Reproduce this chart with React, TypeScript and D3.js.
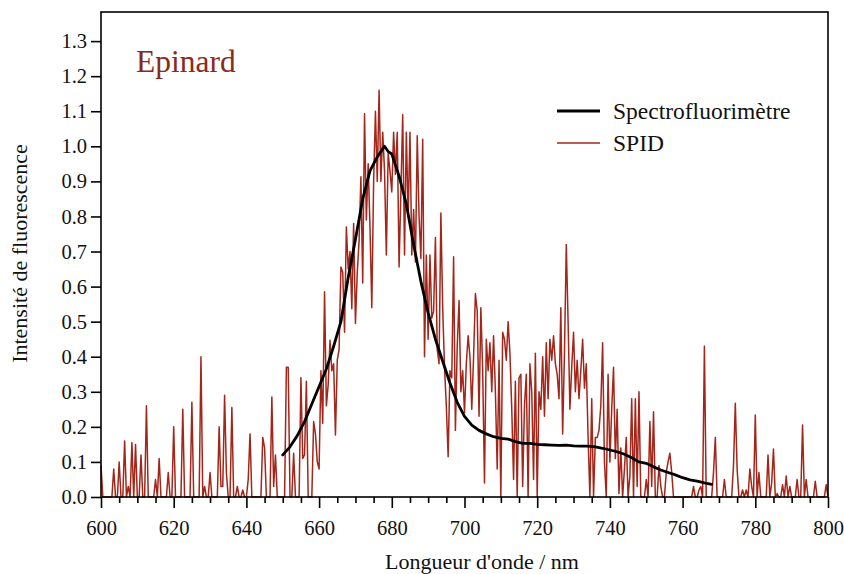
import React, { useEffect, useRef } from 'react';
import * as d3 from 'd3';

// SPID spectrum, sampled every 0.5 nm from 600 nm to 800 nm
const spidStart = 600;
const spidStep = 0.5;
const spidValues: number[] = [
  0.09, 0, 0, 0, 0, 0, 0, 0.08, 0, 0, // 600
  0.10, 0, 0, 0.16, 0, 0.03, 0, 0.155, 0, 0.15, // 605
  0, 0, 0.12, 0, 0, 0.26, 0, 0, 0, 0, // 610
  0.05, 0, 0.11, 0, 0, 0, 0, 0.07, 0, 0, // 615
  0.20, 0, 0, 0, 0, 0.25, 0, 0, 0, 0, // 620
  0.27, 0, 0, 0, 0, 0.40, 0, 0.03, 0, 0, // 625
  0.07, 0, 0, 0, 0, 0.20, 0.03, 0.03, 0.29, 0.07, // 630
  0, 0, 0.255, 0, 0, 0.03, 0, 0, 0.02, 0, // 635
  0, 0.05, 0.18, 0, 0, 0, 0, 0, 0, 0.17, // 640
  0.14, 0, 0, 0, 0.285, 0.03, 0.12, 0, 0, 0, // 645
  0, 0, 0.37, 0.37, 0, 0, 0.125, 0, 0, 0, // 650
  0.34, 0.11, 0.12, 0.33, 0, 0, 0, 0.215, 0.18, 0.10, // 655
  0.08, 0.36, 0.21, 0.585, 0.26, 0.32, 0.447, 0.36, 0.38, 0.177, // 660
  0.39, 0.42, 0.656, 0.64, 0.47, 0.77, 0.65, 0.70, 0.537, 0.78, // 665
  0.495, 0.64, 0.73, 0.913, 0.61, 1.093, 0.79, 0.95, 0.77, 0.54, // 670
  0.90, 1.10, 0.90, 1.16, 0.90, 1.04, 0.93, 0.69, 0.98, 0.93, // 675
  0.87, 1.04, 0.92, 1.04, 0.656, 0.87, 1.09, 0.69, 1.04, 0.80, // 680
  1.04, 0.69, 0.82, 0.67, 1.03, 0.80, 0.68, 1.02, 0.40, 0.69, // 685
  0.45, 0.69, 0.51, 0.53, 0.74, 0.42, 0.38, 0.81, 0.54, 0.37, // 690
  0.26, 0.115, 0.36, 0.34, 0.685, 0.19, 0.43, 0.56, 0.30, 0.36, // 695
  0.24, 0.38, 0.46, 0.40, 0.25, 0.40, 0.58, 0.53, 0.23, 0.54, // 700
  0.36, 0.04, 0.45, 0.36, 0.44, 0.30, 0.46, 0.30, 0.08, 0.39, // 705
  0, 0.47, 0.45, 0.39, 0.50, 0.41, 0.25, 0.05, 0.33, 0, // 710
  0.34, 0.35, 0.03, 0.26, 0.35, 0, 0.38, 0.30, 0.05, 0.41, // 715
  0, 0.30, 0.25, 0.40, 0.23, 0.44, 0.28, 0.45, 0.39, 0.46, // 720
  0.38, 0.35, 0.28, 0.54, 0.18, 0.41, 0.72, 0.50, 0.25, 0.37, // 725
  0.47, 0.30, 0.39, 0.28, 0.36, 0.45, 0.31, 0.38, 0.17, 0, // 730
  0.28, 0, 0.17, 0.17, 0.19, 0.26, 0.44, 0.10, 0, 0.35, // 735
  0.10, 0.25, 0.37, 0.11, 0.25, 0.01, 0.14, 0, 0.08, 0.17, // 740
  0, 0.06, 0.28, 0, 0.28, 0.03, 0.30, 0, 0, 0, // 745
  0.05, 0, 0.215, 0.03, 0.243, 0, 0, 0.09, 0.03, 0, // 750
  0, 0.07, 0.10, 0.125, 0.07, 0, 0, 0, 0, 0, // 755
  0, 0, 0, 0, 0, 0, 0.03, 0, 0, 0.02, // 760
  0.03, 0, 0.43, 0, 0, 0, 0, 0.07, 0.17, 0, // 765
  0, 0, 0, 0.05, 0, 0, 0, 0, 0.09, 0.267, // 770
  0.08, 0, 0, 0.02, 0, 0.02, 0, 0.08, 0.03, 0, // 775
  0.234, 0, 0.07, 0, 0, 0, 0, 0.12, 0, 0.04, // 780
  0.137, 0, 0.01, 0, 0, 0.035, 0, 0.06, 0, 0.03, // 785
  0, 0, 0, 0.05, 0, 0, 0.205, 0, 0.05, 0, // 790
  0, 0, 0, 0.045, 0, 0, 0, 0, 0, 0.035, // 795
  0, // 800
];

// Spectrofluorimeter reference spectrum
const spectroNm: number[] = [
  650, 652, 654, 656, 658, 660, 662, 664, 666, 668, 670, 672, 674, 676, 678, 679, 680,
  682, 684, 686, 688, 690, 692, 694, 696, 698, 700, 702, 704, 706, 708, 710, 712, 714,
  716, 718, 720, 722, 724, 726, 728, 730, 732, 734, 736, 738, 740, 742, 744, 746, 748,
  750, 752, 754, 756, 758, 760, 762, 764, 766, 768,
];
const spectroValues: number[] = [
  0.12, 0.143, 0.175, 0.215, 0.265, 0.315, 0.365, 0.43, 0.50, 0.625, 0.735, 0.85, 0.93, 0.97, 1.0, 0.985, 0.978,
  0.915, 0.835, 0.72, 0.615, 0.525, 0.45, 0.387, 0.325, 0.27, 0.23, 0.205, 0.19, 0.18, 0.172, 0.167, 0.165, 0.158,
  0.153, 0.153, 0.15, 0.149, 0.148, 0.147, 0.148, 0.146, 0.145, 0.145, 0.143, 0.139, 0.134, 0.129, 0.122, 0.112, 0.10,
  0.096, 0.086, 0.077, 0.07, 0.063, 0.055, 0.049, 0.045, 0.04, 0.036,
];

const xMajorTicks = [600, 620, 640, 660, 680, 700, 720, 740, 760, 780, 800];
const xMinorTicks = [605, 610, 615, 625, 630, 635, 645, 650, 655, 665, 670, 675, 685, 690, 695,
  705, 710, 715, 725, 730, 735, 745, 750, 755, 765, 770, 775, 785, 790, 795];
const yTicks = [0, 0.1, 0.2, 0.3, 0.4, 0.5, 0.6, 0.7, 0.8, 0.9, 1.0, 1.1, 1.2, 1.3];

const seriesNames = ['Spectrofluorimètre', 'SPID'];
const sampleName = 'Epinard';
const xTitle = "Longueur d'onde / nm";
const yTitle = 'Intensité de fluorescence';

const FONT = '"Liberation Serif", "DejaVu Serif", serif';
const RED = '#a3261a';

export default function App() {
  const W = 844, H = 574;
  const left = 101, right = 828, top = 12, bottom = 497;
  const x = d3.scaleLinear().domain([600, 800]).range([left, right]);
  const y = d3.scaleLinear().domain([0, 1.383]).range([bottom, top]);

  const gx = useRef<SVGGElement>(null);
  const gxMinor = useRef<SVGGElement>(null);
  const gy = useRef<SVGGElement>(null);

  useEffect(() => {
    const style = (g: any) => {
      g.select('.domain').remove();
      g.selectAll('.tick line').attr('stroke', '#000').attr('stroke-width', 1.6);
      g.selectAll('.tick text').attr('fill', '#111').attr('font-family', FONT).attr('font-size', 20.5);
    };
    d3.select(gx.current!)
      .call(d3.axisBottom(x).tickValues(xMajorTicks).tickSize(11).tickPadding(12).tickFormat(d3.format('d')) as any)
      .call(style);
    d3.select(gxMinor.current!)
      .call(d3.axisBottom(x).tickValues(xMinorTicks).tickSize(6).tickFormat(() => '') as any)
      .call(style);
    d3.select(gy.current!)
      .call(d3.axisLeft(y).tickValues(yTicks).tickSize(10).tickPadding(4).tickFormat(d3.format('.1f')) as any)
      .call(style);
  }, []);

  const spidData = spidValues.map((v, i) => [spidStart + i * spidStep, v] as [number, number]);
  const spectroData = spectroNm.map((n, i) => [n, spectroValues[i]] as [number, number]);
  const line = d3.line<[number, number]>().x(d => x(d[0])).y(d => y(d[1]));

  return (
    <svg width={W} height={H} style={{ position: 'absolute', left: 0, top: 0, background: '#fff' }}>
      <rect x={0} y={0} width={W} height={H} fill="#fff" />
      <path d={line(spidData) || ''} fill="none" stroke={RED} strokeWidth={1.5} strokeLinejoin="round" />
      <path d={line(spectroData) || ''} fill="none" stroke="#000" strokeWidth={2.8} strokeLinejoin="round" strokeLinecap="round" />
      <rect x={left} y={top} width={right - left} height={bottom - top} fill="none" stroke="#000" strokeWidth={1.6} />
      <g ref={gx} transform={`translate(0,${bottom})`} />
      <g ref={gxMinor} transform={`translate(0,${bottom})`} />
      <g ref={gy} transform={`translate(${left},0)`} />
      <text x={136} y={72} fontFamily={FONT} fontSize={31.5} fill="#8a2a1c">{sampleName}</text>
      <line x1={557} x2={600} y1={111} y2={111} stroke="#000" strokeWidth={2.8} />
      <text x={613} y={119} fontFamily={FONT} fontSize={23.5} fill="#111">{seriesNames[0]}</text>
      <line x1={557} x2={600} y1={143} y2={143} stroke={RED} strokeWidth={1.5} />
      <text x={613} y={151} fontFamily={FONT} fontSize={23.5} fill="#111">{seriesNames[1]}</text>
      <text x={482} y={569} textAnchor="middle" fontFamily={FONT} fontSize={22} fill="#111">{xTitle}</text>
      <text transform={`translate(27,${(top + bottom) / 2 - 1}) rotate(-90)`} textAnchor="middle" fontFamily={FONT} fontSize={22} fill="#111">{yTitle}</text>
    </svg>
  );
}
